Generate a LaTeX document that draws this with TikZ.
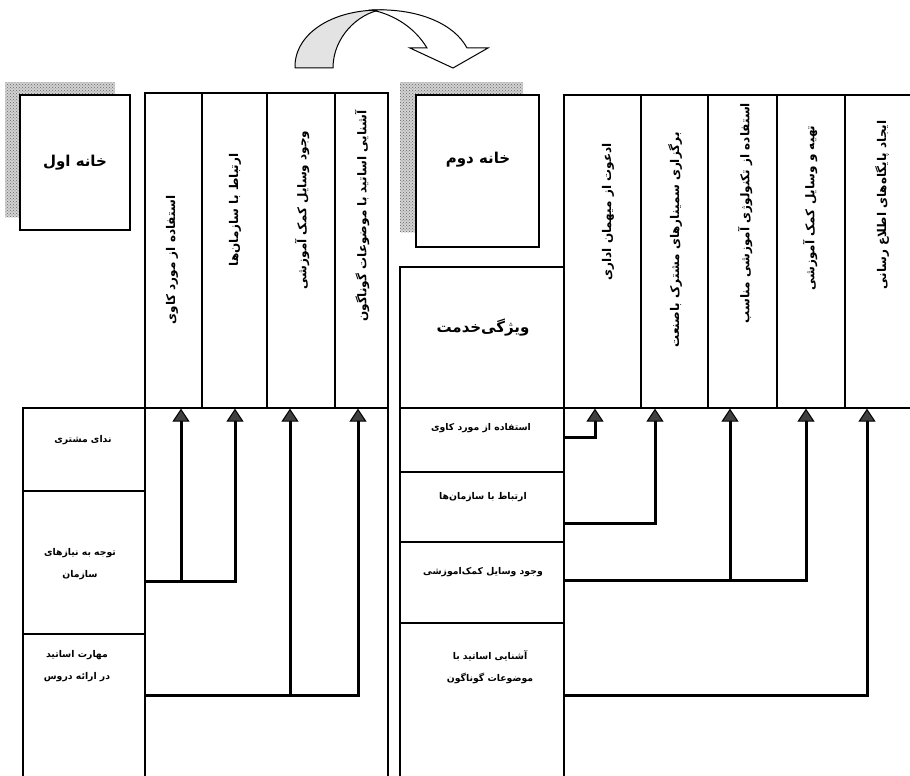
\documentclass[tikz,border=0pt]{standalone}
\usepackage{fontspec}
\usetikzlibrary{arrows.meta,fit,patterns}
\TeXXeTstate=1
\newfontfamily\arabicfont[Script=Arabic]{DejaVu Sans}
\newcommand{\fa}[1]{{\arabicfont\beginR #1\endR}}
\tikzset{
  box/.style={draw, line width=1.3pt, inner sep=0pt, fill=white},
  shadowbox/.style={preaction={fill=gray!35}, pattern=crosshatch dots, pattern color=gray!80!black, draw=none, inner sep=0pt},
  coltext/.style={rotate=90, font=\fontsize{12}{14}\selectfont\bfseries, inner sep=0pt},
  rowtext/.style={font=\fontsize{9.3}{22}\selectfont\bfseries, align=center, inner sep=0pt},
  titletext/.style={font=\fontsize{15}{18}\selectfont\bfseries, inner sep=0pt},
  arr/.style={line width=3pt, -{Triangle[width=17pt,length=13pt,fill=gray!50!black,line width=1pt]}},
}
\begin{document}
\begin{tikzpicture}[x=1pt,y=-1pt]
\useasboundingbox (0,0) rectangle (910,776);
\clip (0,0) rectangle (910,776);
\fill[white] (0,0) rectangle (910,776);

% ---------- curved arrow ----------
\filldraw[fill=gray!22, draw=black, line width=1pt]
  (295,68) .. controls (294,35) and (330,10) .. (380,10)
  .. controls (358,14) and (333,37) .. (333,68) -- cycle;
\filldraw[fill=white, draw=black, line width=1pt]
  (372,10) .. controls (420,8) and (455,25) .. (467,48)
  -- (488,48) -- (453,68) -- (410,48) -- (427,48)
  .. controls (415,28) and (395,15) .. (372,10) -- cycle;

% ---------- left part ----------
\node[shadowbox, fit={(5,82) (115,217)}] (shL) {};
\node[box, fit={(20,95) (130,230)}] (boxL) {};
\node[titletext] at (boxL.center) {\fa{خانه اول}};

\node[box, fit={(145,93) (202,408)}] (c1L) {};
\node[box, fit={(202,93) (267,408)}] (c2L) {};
\node[box, fit={(267,93) (335,408)}] (c3L) {};
\node[box, fit={(335,93) (388,408)}] (c4L) {};
\node[box, fit={(145,408) (388,800)}] (lowL) {};
\node[box, fit={(23,408) (145,491)}] (r1L) {};
\node[box, fit={(23,491) (145,634)}] (r2L) {};
\node[box, fit={(23,634) (145,800)}] (r3L) {};

\node[coltext] at (172,260) {\fa{استفاده از مورد کاوی}};
\node[coltext] at (235,210) {\fa{ارتباط با سازمان‌ها}};
\node[coltext] at (302,210) {\fa{وجود وسایل کمک آموزشی}};
\node[coltext] at (362,216) {\fa{آشنایی اساتید با موضوعات گوناگون}};

\node[rowtext] at (83,440) {\fa{ندای مشتری}};
\node[rowtext] at (80,564) {\fa{توجه به نیازهای}\\\fa{سازمان}};
\node[rowtext] at (77,666) {\fa{مهارت اساتید}\\\fa{در ارائه دروس}};

\coordinate (a1) at (181,581);
\coordinate (a2) at (235,581);
\coordinate (a3) at (290,695);
\coordinate (a4) at (358,695);
\draw[arr] (r2L.east |- a2) -| (a2 |- c2L.south);
\draw[arr] (a1) -- (a1 |- c1L.south);
\draw[arr] (r3L.east |- a4) -| (a4 |- c4L.south);
\draw[arr] (a3) -- (a3 |- c3L.south);

% ---------- right part ----------
\node[shadowbox, fit={(400,82) (523,232)}] (shR) {};
\node[box, fit={(416,95) (539,247)}] (boxR) {};
\node[titletext] at (478,160) {\fa{خانه دوم}};
\node[box, fit={(400,267) (564,408)}] (vizR) {};
\node[titletext] at (483,328) {\fa{ویژگی‌خدمت}};

\node[box, fit={(564,95) (641,408)}] (c1R) {};
\node[box, fit={(641,95) (708,408)}] (c2R) {};
\node[box, fit={(708,95) (777,408)}] (c3R) {};
\node[box, fit={(777,95) (845,408)}] (c4R) {};
\node[box, fit={(845,95) (930,408)}] (c5R) {};
\node[box, fit={(564,408) (930,800)}] (lowR) {};
\node[box, fit={(400,408) (564,472)}] (r1R) {};
\node[box, fit={(400,472) (564,542)}] (r2R) {};
\node[box, fit={(400,542) (564,623)}] (r3R) {};
\node[box, fit={(400,623) (564,800)}] (r4R) {};

\node[coltext] at (608,212) {\fa{ادعوت از میهمان اداری}};
\node[coltext] at (675,240) {\fa{برگزاری سمینارهای مشترک باصنعت}};
\node[coltext] at (745,213) {\fa{استفاده از تکنولوژی آموزشی مناسب}};
\node[coltext] at (810,208) {\fa{تهیه و وسایل کمک آموزشی}};
\node[coltext] at (882,205) {\fa{ایجاد پایگاه‌های اطلاع رسانی}};

\node[rowtext] at (481,428) {\fa{استفاده از مورد کاوی}};
\node[rowtext] at (483,497) {\fa{ارتباط با سازمان‌ها}};
\node[rowtext] at (483,572) {\fa{وجود وسایل کمک‌اموزشی}};
\node[rowtext] at (490,667) {\fa{آشنایی اساتید با}\\\fa{موضوعات گوناگون}};

\coordinate (b1) at (595,437);
\coordinate (b2) at (655,523);
\coordinate (b3) at (730,580);
\coordinate (b4) at (806,580);
\coordinate (b5) at (867,695);
\draw[arr] (r1R.east |- b1) -| (b1 |- c1R.south);
\draw[arr] (r2R.east |- b2) -| (b2 |- c2R.south);
\draw[arr] (r3R.east |- b4) -| (b4 |- c4R.south);
\draw[arr] (b3) -- (b3 |- c3R.south);
\draw[arr] (r4R.east |- b5) -| (b5 |- c5R.south);
\end{tikzpicture}
\end{document}
